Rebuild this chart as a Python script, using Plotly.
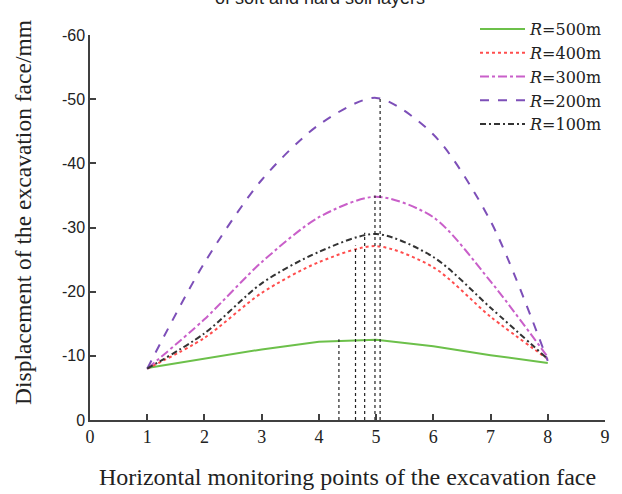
import plotly.graph_objects as go

# monitoring points
points = [1, 2, 3, 4, 5, 6, 7, 8]
r500 = [-8.1, -9.6, -11.0, -12.2, -12.5, -11.5, -10.1, -8.9]
r400 = [-8.0, -12.8, -19.8, -24.6, -27.1, -23.8, -16.1, -9.5]
r300 = [-8.0, -15.7, -24.6, -31.6, -34.8, -31.6, -21.6, -9.8]
r200 = [-8.0, -24.5, -37.4, -46.0, -50.2, -44.5, -31.0, -9.2]
r100 = [-8.0, -13.5, -21.3, -26.2, -29.0, -25.4, -17.5, -9.5]

# peak drop lines
peak_x = [4.35, 4.64, 4.80, 4.98, 5.07]
peak_y = [-12.6, -27.2, -29.2, -35.0, -50.3]

yticks = [0, -10, -20, -30, -40, -50, -60]
ytick_text = ["0", "-10", "-20", "-30", "-40", "-50", "-60"]

series = [
    ("<i>R</i>=500m", r500, "#6cc04a", "solid", "linear"),
    ("<i>R</i>=400m", r400, "#ff4d4d", "dot", "spline"),
    ("<i>R</i>=300m", r300, "#c95fc9", "dashdot", "spline"),
    ("<i>R</i>=200m", r200, "#7d4fb8", "dash", "spline"),
    ("<i>R</i>=100m", r100, "#333333", "6px,3px,2px,3px", "spline"),
]

fig = go.Figure()
for name, ys, col, dash, shape in series:
    fig.add_trace(go.Scatter(x=points, y=ys, mode="lines", name=name,
                             line=dict(color=col, dash=dash, width=2, shape=shape, smoothing=0.8)))

for px, py in zip(peak_x, peak_y):
    fig.add_trace(go.Scatter(x=[px, px], y=[0, py], mode="lines", showlegend=False,
                             line=dict(color="#222222", dash="dot", width=1.2)))

# partially visible chart title (cut off at the top edge)
fig.add_annotation(text="of soft and hard soil layers", xref="paper", yref="paper",
                   x=(320 - 90) / 515, y=1 + 37 / 385, showarrow=False,
                   xanchor="center", yanchor="middle",
                   font=dict(family="Liberation Sans", size=18, color="#222222"))

# y-axis title
fig.add_annotation(text="Displacement of the excavation face/mm", xref="paper", yref="paper",
                   x=(23 - 90) / 515, y=(420 - 213) / 385, showarrow=False, textangle=-90,
                   xanchor="center", yanchor="middle",
                   font=dict(family="Liberation Serif", size=23.5, color="#222222"))

fig.update_layout(
    width=622, height=494,
    margin=dict(l=90, r=17, t=35, b=74, autoexpand=False),
    paper_bgcolor="white", plot_bgcolor="white",
    showlegend=True,
    legend=dict(x=(475 - 90) / 515, y=1 + 23 / 385, xanchor="left", yanchor="top",
                bgcolor="rgba(0,0,0,0)", font=dict(family="DejaVu Serif", size=16, color="#222222"),
                itemwidth=45, tracegroupgap=0),
    xaxis=dict(range=[0, 9], tickvals=list(range(10)), showgrid=False, zeroline=False,
               showline=True, linecolor="#404040", linewidth=1.5, automargin=False,
               ticks="inside", ticklen=6, tickcolor="#404040", tickwidth=1.5,
               tickfont=dict(family="Liberation Serif", size=18, color="#222222"),
               title=dict(text="Horizontal monitoring points of the excavation face",
                          font=dict(family="Liberation Serif", size=24, color="#222222"), standoff=22)),
    yaxis=dict(range=[0, -60], tickvals=yticks, ticktext=ytick_text, showgrid=False, zeroline=False,
               showline=True, linecolor="#404040", linewidth=1.5, automargin=False,
               ticks="inside", ticklen=6, tickcolor="#404040", tickwidth=1.5,
               tickfont=dict(family="Liberation Sans", size=16, color="#222222")),
)

fig.write_html("out.html")
